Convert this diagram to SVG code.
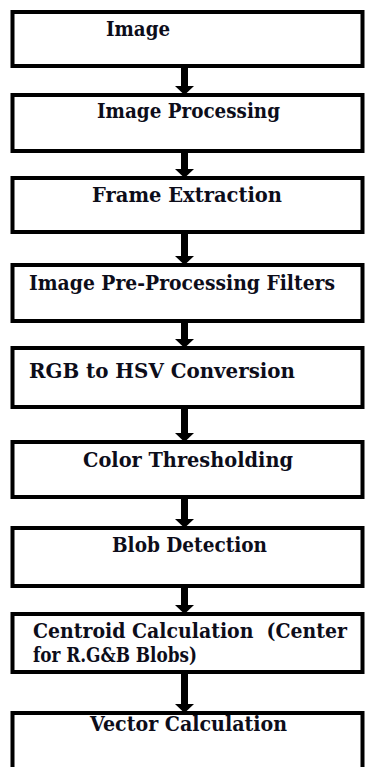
<svg xmlns="http://www.w3.org/2000/svg" width="365" height="767" viewBox="0 0 365 767">
<style>
.box{fill:#fff;stroke:#000;stroke-width:4}
text{font-family:'DejaVu Serif','Liberation Serif',serif;font-weight:700;font-size:20px;fill:#0d0d1a}
.conn{stroke:#000;stroke-width:7}
</style>
<defs>
<marker id="ah" markerUnits="userSpaceOnUse" viewBox="0 -10 10 20" refX="0" refY="0" markerWidth="10" markerHeight="20" orient="auto">
<path d="M0,-9.5 L9,0 L0,9.5 z" fill="#000"/>
</marker>
</defs>
<rect width="365" height="767" fill="#fff"/>
<g id="connectors">
<line class="conn" x1="184.5" y1="66" x2="184.5" y2="86" marker-end="url(#ah)"/>
<line class="conn" x1="184.5" y1="151" x2="184.5" y2="169" marker-end="url(#ah)"/>
<line class="conn" x1="184.5" y1="232" x2="184.5" y2="256" marker-end="url(#ah)"/>
<line class="conn" x1="184.5" y1="321" x2="184.5" y2="339" marker-end="url(#ah)"/>
<line class="conn" x1="184.5" y1="407" x2="184.5" y2="433" marker-end="url(#ah)"/>
<line class="conn" x1="184.5" y1="497" x2="184.5" y2="519" marker-end="url(#ah)"/>
<line class="conn" x1="184.5" y1="586" x2="184.5" y2="605" marker-end="url(#ah)"/>
<line class="conn" x1="184.5" y1="672" x2="184.5" y2="704" marker-end="url(#ah)"/>
</g>
<g id="n1"><rect class="box" x="12.5" y="12" width="350" height="54"/><text x="106" y="36" textLength="64" lengthAdjust="spacingAndGlyphs">Image</text></g>
<g id="n2"><rect class="box" x="12.5" y="95" width="350" height="56"/><text x="97" y="118" textLength="183" lengthAdjust="spacingAndGlyphs">Image Processing</text></g>
<g id="n3"><rect class="box" x="12.5" y="178" width="350" height="54"/><text x="92" y="201.5" textLength="190" lengthAdjust="spacingAndGlyphs">Frame Extraction</text></g>
<g id="n4"><rect class="box" x="12.5" y="265" width="350" height="56"/><text x="29" y="290" textLength="306" lengthAdjust="spacingAndGlyphs">Image Pre-Processing Filters</text></g>
<g id="n5"><rect class="box" x="12.5" y="348" width="350" height="59"/><text x="29" y="378" textLength="266" lengthAdjust="spacingAndGlyphs">RGB to HSV Conversion</text></g>
<g id="n6"><rect class="box" x="12.5" y="442" width="350" height="55"/><text x="83" y="466.5" textLength="210" lengthAdjust="spacingAndGlyphs">Color Thresholding</text></g>
<g id="n7"><rect class="box" x="12.5" y="528" width="350" height="58"/><text x="112" y="551.5" textLength="155" lengthAdjust="spacingAndGlyphs">Blob Detection</text></g>
<g id="n8"><rect class="box" x="12.5" y="614" width="350" height="58"/><text x="33" y="638" textLength="314" lengthAdjust="spacingAndGlyphs" xml:space="preserve">Centroid Calculation  (Center</text><text x="33" y="661.5" textLength="164" lengthAdjust="spacingAndGlyphs">for R.G&amp;B Blobs)</text></g>
<g id="n9"><rect class="box" x="12.5" y="713" width="350" height="70"/><text x="90" y="730.5" textLength="197" lengthAdjust="spacingAndGlyphs">Vector Calculation</text></g>
</svg>
